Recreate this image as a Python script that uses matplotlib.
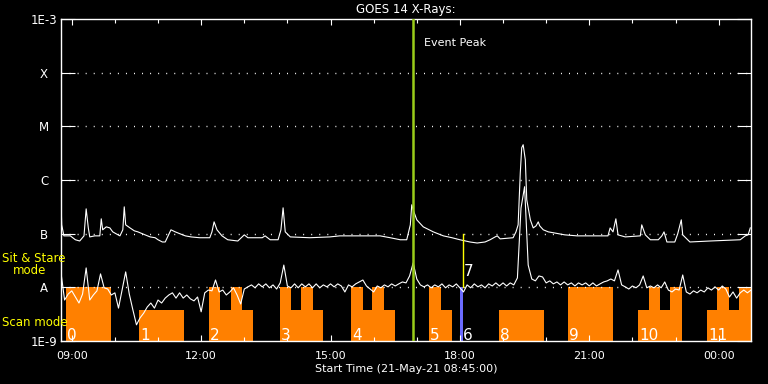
"""
plot.py - GOES 14 X-ray light curves with Sit & Stare / Scan mode blocks
"""

import numpy as np
import matplotlib
matplotlib.use("Agg")
import matplotlib.pyplot as plt
from matplotlib.ticker import NullLocator

plt.rcParams["font.family"] = "DejaVu Sans"

# ───────────────────────── data (time in minutes after 08:45) ─────────────────────────
# 1-8 A channel, flux in 1e-9 W/m^2
long_t = [0, 1, 4, 13, 20, 26, 32, 35, 38, 40, 47, 54, 56, 58, 63, 68, 72, 77, 82, 86,
          88, 90, 96, 102, 107, 117, 124, 131, 135, 141, 145, 149, 153, 159, 166, 173, 181, 193, 207, 210,
          213, 217, 224, 232, 246, 255, 260, 280, 284, 291, 302, 306, 309, 312, 319, 346, 374, 388, 444, 458,
          472, 481, 486, 488, 491, 495, 504, 518, 532, 544, 555, 569, 579, 590, 597, 604, 607, 611, 629, 633,
          636, 639, 641, 643, 646, 648, 653, 657, 661, 664, 666, 671, 678, 685, 701, 718, 761, 764, 768, 772,
          775, 785, 806, 808, 813, 820, 831, 836, 839, 843, 854, 858, 863, 865, 875, 903, 945, 952, 956, 959]
long_flux = [390, 146, 91, 91, 77, 73, 91, 290, 128, 87, 91, 91, 189, 118, 134, 128, 108, 99, 91, 118,
             316, 146, 128, 113, 108, 95, 87, 84, 77, 70, 70, 91, 118, 108, 99, 91, 87, 84, 84, 108,
             166, 118, 91, 77, 73, 95, 84, 84, 91, 77, 77, 118, 303, 108, 87, 84, 87, 91, 91, 84,
             77, 77, 146, 345, 255, 181, 134, 108, 91, 84, 77, 70, 67, 70, 77, 87, 91, 80, 84, 108,
             146, 1360, 3990, 4540, 2380, 430, 181, 128, 140, 166, 140, 118, 108, 104, 95, 91, 91, 128, 108, 189,
             95, 87, 91, 146, 95, 77, 77, 91, 108, 70, 70, 99, 181, 95, 70, 73, 77, 91, 95, 128]

# 0.5-4 A channel, 5-minute cadence, flux in 1e-9 W/m^2
short_cadence = 5
short_flux = [18.6, 5.8, 7.5, 8.6, 6.6, 5.1, 7.5, 23, 5.8, 7.2,
              8.6, 17.8, 9.8, 9.3, 7.2, 7.9, 4.1, 8.9, 19.4, 7.5,
              3.8, 2.0, 2.7, 3.3, 4.3, 5.1, 4.1, 5.8, 5.1, 6.3,
              7.2, 7.9, 6.3, 7.9, 6.3, 7.2, 6.1, 5.6, 6.6, 3.5,
              7.9, 8.9, 8.6, 13.7, 8.2, 8.9, 7.2, 8.2, 9.8, 7.2,
              4.9, 9.3, 10.2, 11.1, 9.8, 11.6, 10.2, 11.6, 9.8, 11.1,
              9.3, 12.1, 26, 10.6, 9.8, 11.6, 9.8, 11.6, 10.2, 11.6,
              9.8, 11.6, 9.8, 11.1, 10.2, 11.6, 10.2, 11.6, 10.6, 8.2,
              11.1, 10.2, 11.6, 12.6, 13.7, 10.6, 9.3, 8.2, 10.6, 9.8,
              11.1, 10.2, 11.6, 10.6, 11.6, 12.6, 12.1, 16.3, 28.5, 14.3,
              11.1, 10.2, 11.1, 9.8, 11.1, 10.2, 11.6, 9.8, 11.1, 10.2,
              11.6, 9.8, 8.2, 11.1, 9.8, 11.6, 10.2, 11.1, 9.8, 11.6,
              10.6, 12.1, 10.6, 12.1, 10.6, 12.1, 11.1, 15.0, 300, 750,
              26, 14.3, 13.2, 16.3, 15.6, 12.1, 13.2, 11.6, 12.6, 11.1,
              12.6, 11.1, 12.1, 10.6, 12.1, 11.1, 12.1, 10.6, 12.1, 10.6,
              11.6, 12.6, 13.2, 14.3, 13.2, 21.1, 11.1, 10.2, 9.3, 10.6,
              9.8, 11.1, 16.3, 9.8, 10.6, 9.8, 11.1, 9.8, 12.6, 8.9,
              8.2, 9.3, 8.9, 17.0, 8.2, 7.5, 8.6, 7.9, 8.9, 8.2,
              9.8, 8.9, 10.2, 8.9, 10.6, 9.3, 6.6, 8.2, 6.3, 7.9,
              8.9, 7.9, 8.9]

# observing blocks: segments of each numbered block
seg_block = [0, 1, 2, 2, 2, 2, 3, 3, 3, 3, 4, 4, 4, 4, 5, 5, 6, 8, 9,
             10, 10, 10, 10, 11, 11, 11, 11]
seg_start = [7, 109, 206, 221, 237, 252, 305, 320, 334, 351, 403, 420, 433, 449, 512, 529, 555, 609, 705,
             803, 818, 833, 847, 899, 913, 929, 943]
seg_end = [70, 171, 221, 237, 252, 267, 320, 334, 351, 365, 420, 433, 449, 465, 529, 544, 559, 672, 768,
           818, 833, 847, 864, 913, 929, 943, 960]
seg_mode = ["sit", "scan", "sit", "scan", "sit", "scan", "sit", "scan", "sit", "scan",
            "sit", "scan", "sit", "scan", "sit", "scan", "sit", "scan", "sit",
            "scan", "sit", "scan", "sit", "scan", "sit", "scan", "sit"]
SIT_TOP = 1e-8
SCAN_TOP = 3.8e-9

block_labels = ["0", "1", "2", "3", "4", "5", "6", "8", "9", "10", "11"]
block_label_t = [8, 110, 207, 306, 405, 513, 559, 611, 707, 804, 900]

event_peak_t = 490        # 16:55
block7_t = 559

level_vals = [1e-9, 1e-8, 1e-7, 1e-6, 1e-5, 1e-4, 1e-3]
level_names = ["1E-9", "A", "B", "C", "M", "X", "1E-3"]

time_ticks = [15, 195, 375, 555, 735, 915]
time_labels = ["09:00", "12:00", "15:00", "18:00", "21:00", "00:00"]

# ───────────────────────── figure ─────────────────────────
fig = plt.figure(figsize=(7.68, 3.84), dpi=100, facecolor="black")
ax = fig.add_axes([61 / 768, 1 - 341 / 384, 690 / 768, 322 / 384])
ax.set_facecolor("black")
ax.set_yscale("log")
ax.set_xlim(0, 960)
ax.set_ylim(1e-9, 1e-3)

# mode blocks
for b, s, e, m in zip(seg_block, seg_start, seg_end, seg_mode):
    top = SIT_TOP if m == "sit" else SCAN_TOP
    col = "#6b6bff" if b == 6 else "#ff8000"
    ax.bar(s, top - 1e-9, width=e - s, bottom=1e-9, align="edge",
           color=col, linewidth=0, zorder=1)

for lab, t in zip(block_labels, block_label_t):
    ax.text(t, 1.04e-9, lab, color="white", fontsize=11, ha="left", va="baseline", zorder=5)

# dotted level lines
for lev in level_vals[1:-1]:
    ax.axhline(lev, color="white", lw=1.0, linestyle=(0, (0.7, 5.1)), zorder=2)

# light curves
short_t = np.arange(len(short_flux)) * short_cadence
ax.plot(long_t, np.array(long_flux) * 1e-9, color="white", lw=0.8, zorder=3)
ax.plot(short_t, np.array(short_flux) * 1e-9, color="white", lw=0.8, zorder=3)

# event peak + block 7 marker
ax.axvline(event_peak_t, color="#9acd1a", lw=1.8, zorder=4)
ax.text(event_peak_t + 15, 3.6e-4, "Event Peak", color="white", fontsize=8, va="center")
ax.plot([block7_t, block7_t], [1e-8, 1e-7], color="#ffff00", lw=1.0, zorder=4)
ax.text(block7_t + 1, 1.94e-8, "7", color="white", fontsize=11, ha="left", va="center", zorder=5)

# axes styling
for sp in ax.spines.values():
    sp.set_color("white")
    sp.set_linewidth(1.0)

ax.set_xticks(time_ticks)
ax.set_xticklabels(time_labels)
ax.set_xticks(np.arange(15, 960, 60), minor=True)
ax.tick_params(axis="x", which="major", direction="in", length=4.5, width=0.8,
               colors="white", top=True, bottom=True, pad=7, labelsize=8)
ax.tick_params(axis="x", which="minor", direction="in", length=3, width=0.8,
               colors="white", top=True, bottom=True)

ax.set_yticks(level_vals)
ax.set_yticklabels(level_names)
ax.yaxis.set_minor_locator(NullLocator())
ax.tick_params(axis="y", direction="in", length=10, width=0.8, colors="white",
               left=True, right=True, pad=12.2, labelsize=8.5)
for lbl in ax.get_yticklabels():
    lbl.set_horizontalalignment("center")

ax.set_xlabel("Start Time (21-May-21 08:45:00)", color="white", fontsize=8, labelpad=2)
ax.set_title("GOES 14 X-Rays:", color="white", fontsize=8.5, pad=4)

# mode legend on the left
fig.text(2 / 768, 1 - 259 / 384, "Sit & Stare", color="yellow", fontsize=8.5, va="center")
fig.text(13 / 768, 1 - 271 / 384, "mode", color="yellow", fontsize=8.5, va="center")
fig.text(2 / 768, 1 - 323 / 384, "Scan mode", color="yellow", fontsize=8.5, va="center")

fig.savefig("out.png", dpi=100, facecolor="black")
plt.close(fig)
